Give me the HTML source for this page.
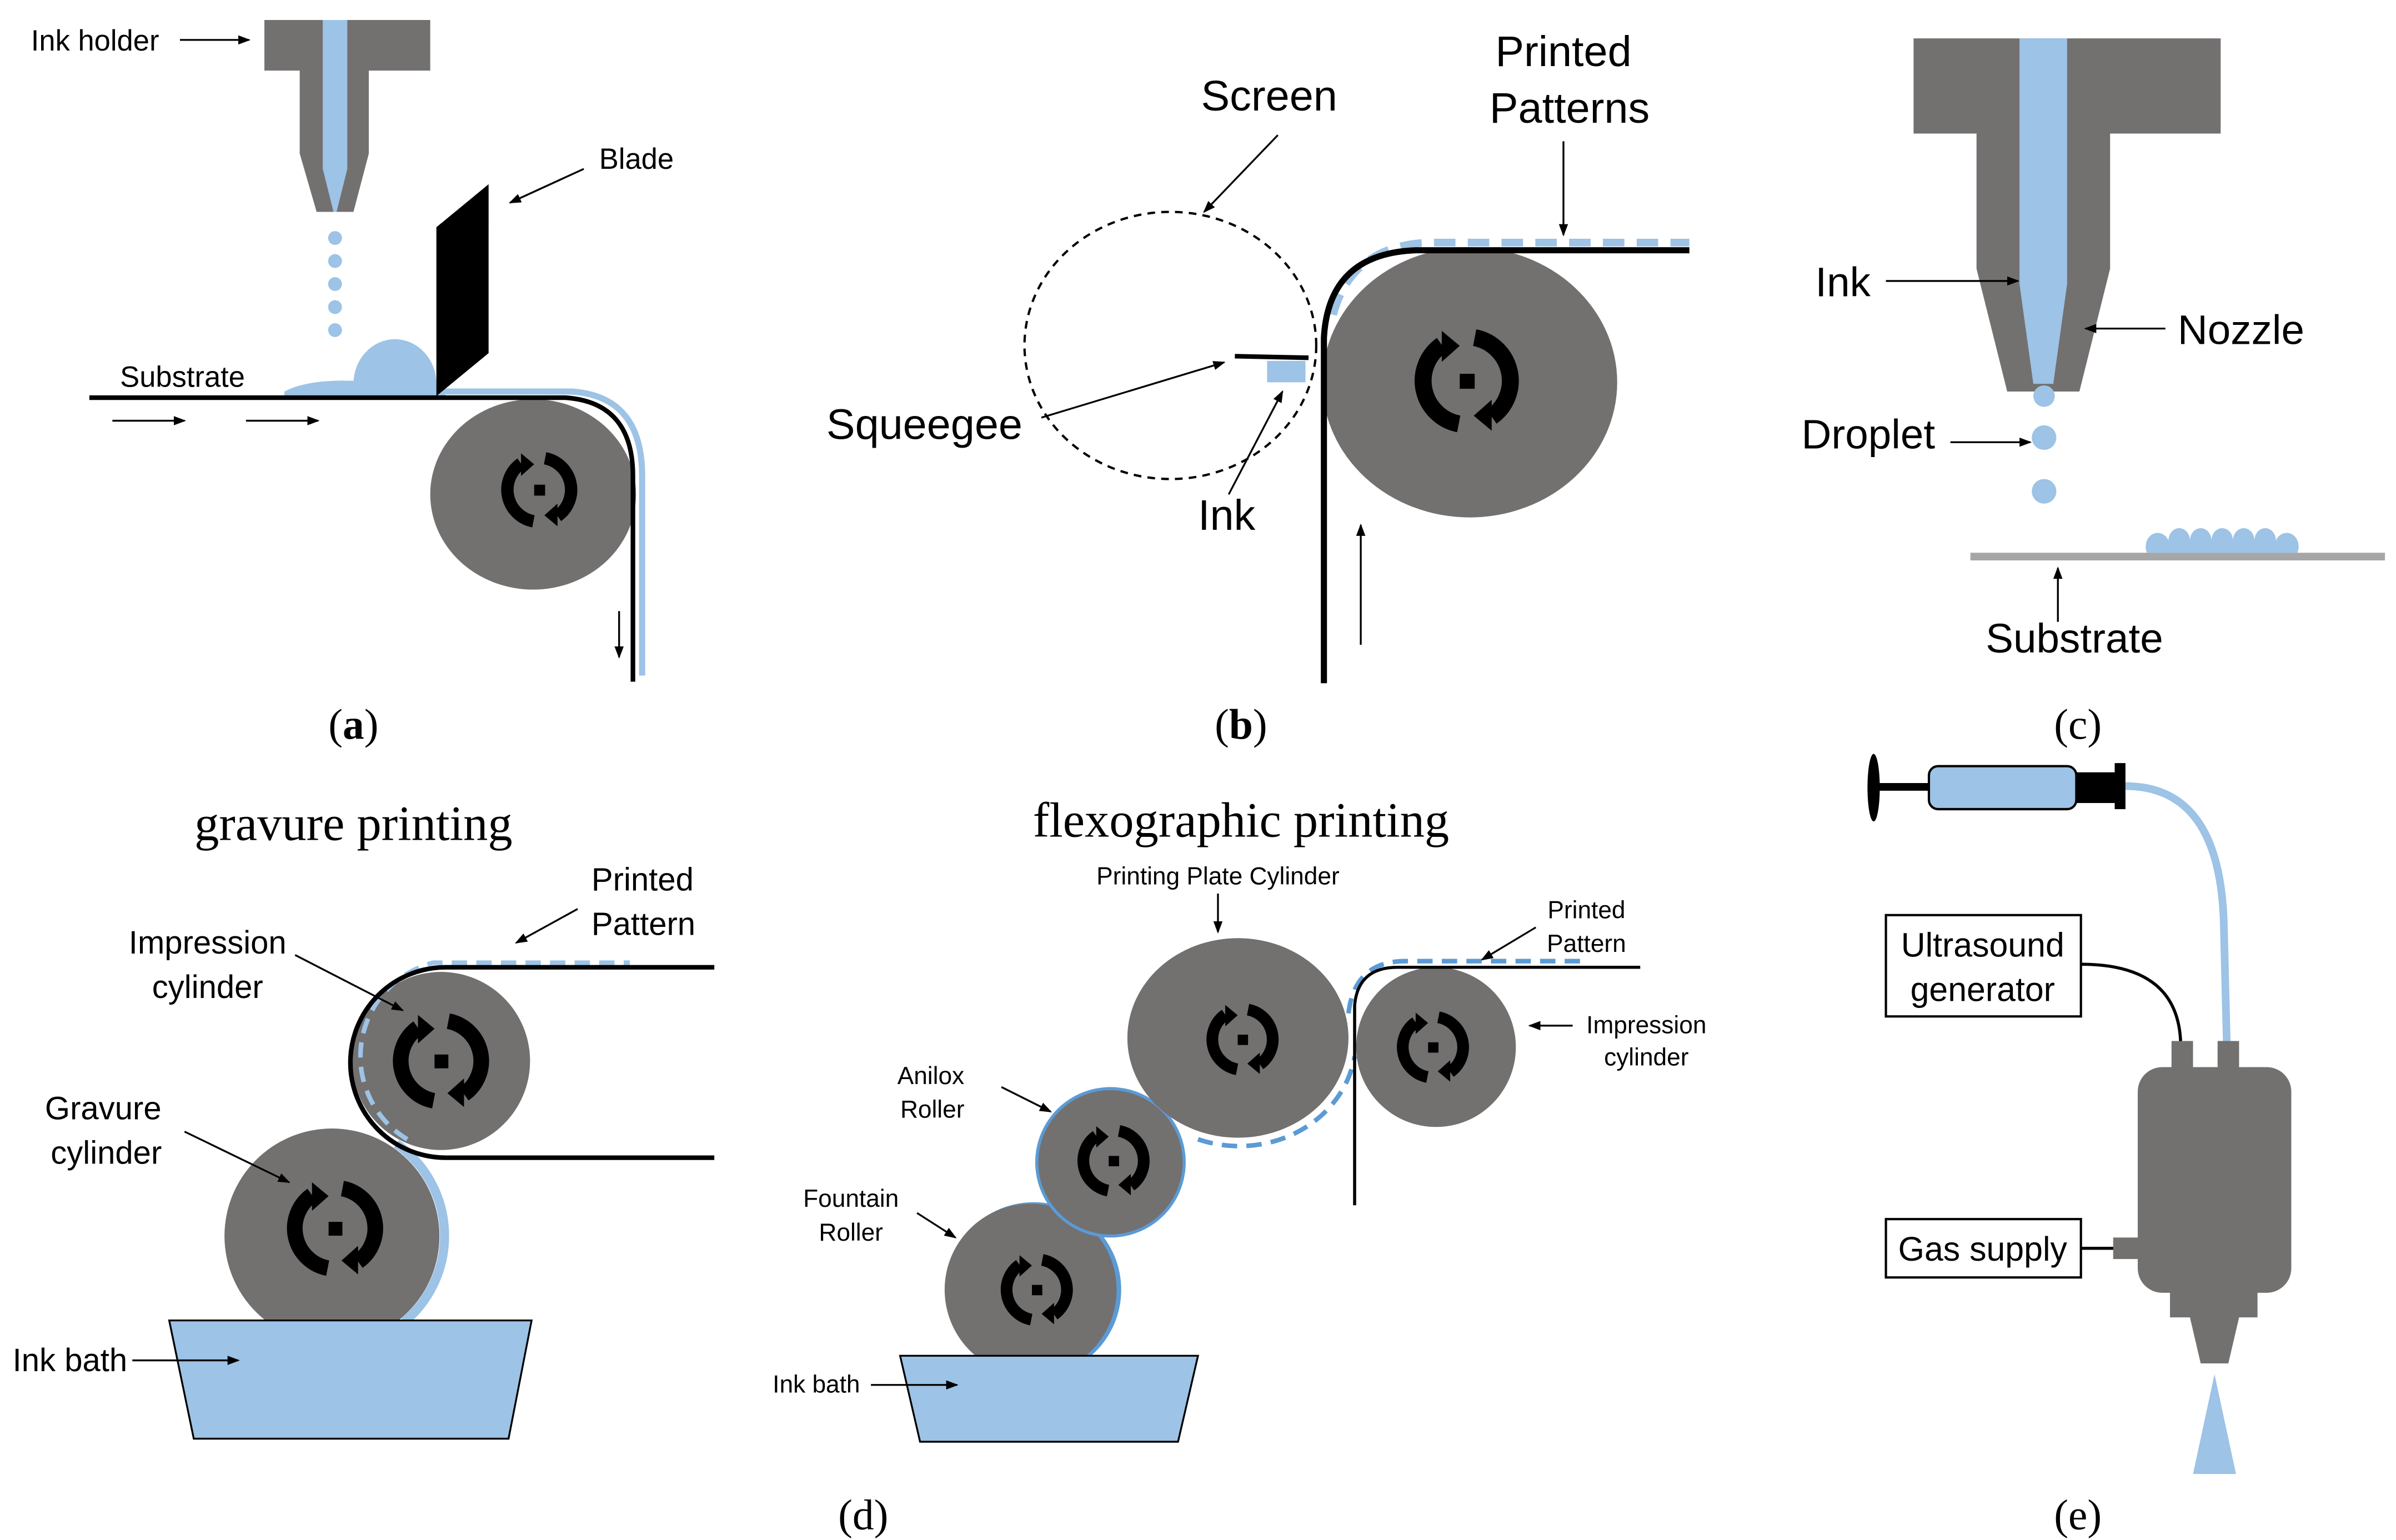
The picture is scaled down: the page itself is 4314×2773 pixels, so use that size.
<!DOCTYPE html>
<html><head><meta charset="utf-8"><style>
html,body{margin:0;padding:0;background:#fff;}
svg{display:block}
text{font-family:"Liberation Sans",sans-serif;fill:#000}
.serif{font-family:"Liberation Serif",serif}
</style></head><body>
<svg width="4314" height="2773" viewBox="0 0 1560 1003" xmlns="http://www.w3.org/2000/svg">
<defs>
<marker id="ah" markerWidth="8" markerHeight="8" refX="7" refY="4" orient="auto" markerUnits="userSpaceOnUse"><path d="M0,1 L8,4 L0,7 z" fill="#000"/></marker>
<g id="rot">
<path d="M -4 21.6 A 22 22 0 0 1 -12.5 -18" fill="none" stroke="#000" stroke-width="8.5"/>
<path d="M -12.5 -25 L -3.5 -17.5 L -12.5 -9.5 z" fill="#000"/>
<path d="M 4 -21.6 A 22 22 0 0 1 12.5 18" fill="none" stroke="#000" stroke-width="8.5"/>
<path d="M 12.5 25 L 3.5 17.5 L 12.5 9.5 z" fill="#000"/>
<rect x="-3.5" y="-3.5" width="7.5" height="7.5" fill="#000"/>
</g>
</defs>
<g stroke-linecap="butt">
<!-- Panel a -->
<path d="M172 13 H280 V46 H240 V100 L230 138 H206 L195 100 V46 H172 Z" fill="#737070"/>
<path d="M210 13 H226 V110 L219 138 L217 138 L210 110 Z" fill="#9dc3e6"/>
<g fill="#9dc3e6"><circle cx="218" cy="155" r="4.5"/><circle cx="218" cy="170" r="4.5"/><circle cx="218" cy="185" r="4.5"/><circle cx="218" cy="200" r="4.5"/><circle cx="218" cy="215" r="4.5"/>
<path d="M230 250 A26 28 0 0 1 284 250 Z"/><path d="M185 255 Q200 247 230 248 L290 250 L290 258 L185 258 Z"/></g>
<ellipse cx="347" cy="322" rx="67" ry="62" fill="#737070"/>
<use href="#rot" transform="translate(351,319) scale(0.95)"/>
<path d="M290 255 H372 Q418 258 418 310 V440" fill="none" stroke="#9dc3e6" stroke-width="4"/>
<path d="M58 259 H368 Q412 262 412 310 V444" fill="none" stroke="#000" stroke-width="3"/>
<path d="M284 148 L318 120 V230 L284 258 Z" fill="#000"/>
<g stroke="#000" stroke-width="1.2" marker-end="url(#ah)"><line x1="117" y1="26" x2="162" y2="26"/><line x1="380" y1="110" x2="332" y2="132"/><line x1="73" y1="274" x2="120" y2="274"/><line x1="160" y1="274" x2="207" y2="274"/><line x1="403" y1="398" x2="403" y2="428"/></g>
<text x="20" y="33" font-size="19">Ink holder</text>
<text x="390" y="110" font-size="19">Blade</text>
<text x="78" y="252" font-size="19">Substrate</text>
<text x="230" y="481" font-size="28" class="serif" text-anchor="middle">(<tspan font-weight="bold">a</tspan>)</text>

<!-- Panel b -->
<ellipse cx="762" cy="225" rx="95" ry="87" fill="none" stroke="#000" stroke-width="1.5" stroke-dasharray="5,4"/>
<ellipse cx="957" cy="249" rx="96" ry="88" fill="#737070"/>
<use href="#rot" transform="translate(955,248) scale(1.3)"/>
<path d="M868 205 Q880 160 930 158 H1100" fill="none" stroke="#9dc3e6" stroke-width="5" stroke-dasharray="14,8"/>
<path d="M862 445 V220 Q865 165 922 163 H1100" fill="none" stroke="#000" stroke-width="4"/>
<line x1="804" y1="232" x2="852" y2="233" stroke="#000" stroke-width="3"/>
<rect x="825" y="235" width="25" height="14" fill="#9dc3e6"/>
<g stroke="#000" stroke-width="1.2" marker-end="url(#ah)"><line x1="832" y1="88" x2="784" y2="138"/><line x1="1018" y1="92" x2="1018" y2="153"/><line x1="678" y1="272" x2="797" y2="236"/><line x1="800" y1="322" x2="835" y2="255"/><line x1="886" y1="420" x2="886" y2="342"/></g>
<text x="782" y="72" font-size="28">Screen</text>
<text x="1018" y="43" font-size="28" text-anchor="middle">Printed</text>
<text x="1022" y="80" font-size="28" text-anchor="middle">Patterns</text>
<text x="538" y="286" font-size="28">Squeegee</text>
<text x="780" y="345" font-size="28">Ink</text>
<text x="808" y="481" font-size="28" class="serif" text-anchor="middle">(<tspan font-weight="bold">b</tspan>)</text>

<!-- Panel c -->
<path d="M1246 25 H1446 V87 H1374 V175 L1354 255 H1307 L1287 175 V87 H1246 Z" fill="#737070"/>
<path d="M1315 25 H1346 V185 L1337 250 H1324 L1315 185 Z" fill="#9dc3e6"/>
<g fill="#9dc3e6"><circle cx="1331" cy="258" r="7"/><circle cx="1331" cy="285" r="8"/><circle cx="1331" cy="320" r="8"/>
<path d="M1398 360 A7 8 0 0 1 1412 352 A7 8 0 0 1 1426 352 A7 8 0 0 1 1440 352 A7 8 0 0 1 1454 352 A7 8 0 0 1 1468 352 A7 8 0 0 1 1482 352 A7 8 0 0 1 1496 360 Z"/></g>
<rect x="1283" y="360" width="270" height="5" fill="#a6a6a6"/>
<g stroke="#000" stroke-width="1.2" marker-end="url(#ah)"><line x1="1228" y1="183" x2="1314" y2="183"/><line x1="1410" y1="214" x2="1358" y2="214"/><line x1="1270" y1="288" x2="1322" y2="288"/><line x1="1340" y1="405" x2="1340" y2="370"/></g>
<text x="1182" y="193" font-size="27">Ink</text>
<text x="1418" y="224" font-size="27">Nozzle</text>
<text x="1173" y="292" font-size="27">Droplet</text>
<text x="1293" y="425" font-size="27">Substrate</text>
<text x="1353" y="481" font-size="28" class="serif" text-anchor="middle">(c)</text>

<!-- Panel d gravure -->
<text x="230" y="547" font-size="32" class="serif" text-anchor="middle">gravure printing</text>
<path d="M258 745 A73 73 0 0 1 263 861" fill="none" stroke="#9dc3e6" stroke-width="6"/>
<circle cx="216" cy="805" r="70" fill="#737070"/>
<circle cx="287" cy="691" r="58" fill="#737070"/>
<use href="#rot" transform="translate(287,691) scale(1.2)"/>
<use href="#rot" transform="translate(218,800) scale(1.2)"/>
<path d="M265 742 A63 63 0 0 1 282 627 H410" fill="none" stroke="#9dc3e6" stroke-width="3" stroke-dasharray="10,6"/>
<path d="M465 630 H290 A60 60 0 0 0 290 754 H465" fill="none" stroke="#000" stroke-width="3"/>
<path d="M110 860 H346 L331 937 H126 Z" fill="#9dc3e6" stroke="#000" stroke-width="1.2"/>
<g stroke="#000" stroke-width="1.2" marker-end="url(#ah)"><line x1="376" y1="592" x2="336" y2="614"/><line x1="192" y1="622" x2="262" y2="658"/><line x1="120" y1="737" x2="188" y2="770"/><line x1="86" y1="886" x2="155" y2="886"/></g>
<text x="385" y="580" font-size="21">Printed</text>
<text x="385" y="609" font-size="21">Pattern</text>
<text x="135" y="621" font-size="21" text-anchor="middle">Impression</text>
<text x="135" y="650" font-size="21" text-anchor="middle">cylinder</text>
<text x="67" y="729" font-size="21" text-anchor="middle">Gravure</text>
<text x="69" y="758" font-size="21" text-anchor="middle">cylinder</text>
<text x="8" y="893" font-size="21">Ink bath</text>

<!-- flexo -->
<text x="808" y="545" font-size="32" class="serif" text-anchor="middle">flexographic printing</text>
<path d="M780 742 A76 69 0 0 0 882 688" fill="none" stroke="#5b9bd5" stroke-width="3" stroke-dasharray="10,6"/>
<circle cx="673" cy="840" r="57" fill="#5b9bd5"/>
<circle cx="671" cy="840" r="56" fill="#737070"/>
<circle cx="723" cy="757" r="49" fill="#5b9bd5"/>
<circle cx="723" cy="757" r="47" fill="#737070"/>
<ellipse cx="806" cy="676" rx="72" ry="65" fill="#737070"/>
<circle cx="935" cy="682" r="52" fill="#737070"/>
<use href="#rot" transform="translate(809,677) scale(0.9)"/>
<use href="#rot" transform="translate(933,682) scale(0.9)"/>
<use href="#rot" transform="translate(725,756) scale(0.9)"/>
<use href="#rot" transform="translate(675,840) scale(0.9)"/>
<path d="M878 660 Q882 626 915 626 H1030" fill="none" stroke="#5b9bd5" stroke-width="3" stroke-dasharray="10,6"/>
<path d="M882 785 V655 Q884 630 910 630 H1068" fill="none" stroke="#000" stroke-width="2"/>
<path d="M586 883 H780 L767 939 H599 Z" fill="#9dc3e6" stroke="#000" stroke-width="1.2"/>
<g stroke="#000" stroke-width="1.2" marker-end="url(#ah)"><line x1="793" y1="582" x2="793" y2="607"/><line x1="1000" y1="604" x2="965" y2="625"/><line x1="1024" y1="668" x2="996" y2="668"/><line x1="652" y1="708" x2="684" y2="724"/><line x1="597" y1="790" x2="622" y2="806"/><line x1="567" y1="902" x2="623" y2="902"/></g>
<text x="793" y="576" font-size="16" text-anchor="middle">Printing Plate Cylinder</text>
<text x="1033" y="598" font-size="16" text-anchor="middle">Printed</text>
<text x="1033" y="620" font-size="16" text-anchor="middle">Pattern</text>
<text x="1072" y="673" font-size="16" text-anchor="middle">Impression</text>
<text x="1072" y="694" font-size="16" text-anchor="middle">cylinder</text>
<text x="606" y="706" font-size="16" text-anchor="middle">Anilox</text>
<text x="607" y="728" font-size="16" text-anchor="middle">Roller</text>
<text x="554" y="786" font-size="16" text-anchor="middle">Fountain</text>
<text x="554" y="808" font-size="16" text-anchor="middle">Roller</text>
<text x="503" y="907" font-size="16">Ink bath</text>
<text x="562" y="996" font-size="28" class="serif" text-anchor="middle">(d)</text>

<!-- Panel e -->
<path d="M1384 512 Q1445 512 1448 600 L1450 680" fill="none" stroke="#9dc3e6" stroke-width="5"/>
<ellipse cx="1220" cy="513" rx="4" ry="22" fill="#000"/>
<rect x="1220" y="510" width="38" height="5" fill="#000"/>
<rect x="1256" y="499" width="96" height="28" rx="6" fill="#9dc3e6" stroke="#000" stroke-width="1.5"/>
<rect x="1352" y="503" width="26" height="20" fill="#000"/>
<rect x="1377" y="497" width="7" height="30" fill="#000"/>
<path d="M1355 628 Q1420 628 1420 682" fill="none" stroke="#000" stroke-width="2"/>
<rect x="1414" y="678" width="14" height="20" fill="#737070"/>
<rect x="1444" y="678" width="14" height="20" fill="#737070"/>
<rect x="1392" y="695" width="100" height="147" rx="16" fill="#737070"/>
<path d="M1413 840 H1470 V858 H1458 L1451 888 H1433 L1426 858 H1413 Z" fill="#737070"/>
<path d="M1442 895 L1456 960 H1428 Z" fill="#9dc3e6"/>
<line x1="1355" y1="813" x2="1378" y2="813" stroke="#000" stroke-width="2"/>
<rect x="1376" y="806" width="16" height="14" fill="#737070"/>
<rect x="1228" y="596" width="127" height="66" fill="#fff" stroke="#000" stroke-width="1.5"/>
<rect x="1228" y="794" width="127" height="38" fill="#fff" stroke="#000" stroke-width="1.5"/>
<text x="1291" y="623" font-size="22" text-anchor="middle">Ultrasound</text>
<text x="1291" y="652" font-size="22" text-anchor="middle">generator</text>
<text x="1291" y="821" font-size="22" text-anchor="middle">Gas supply</text>
<text x="1353" y="996" font-size="28" class="serif" text-anchor="middle">(e)</text>
</g>
</svg>
</body></html>
